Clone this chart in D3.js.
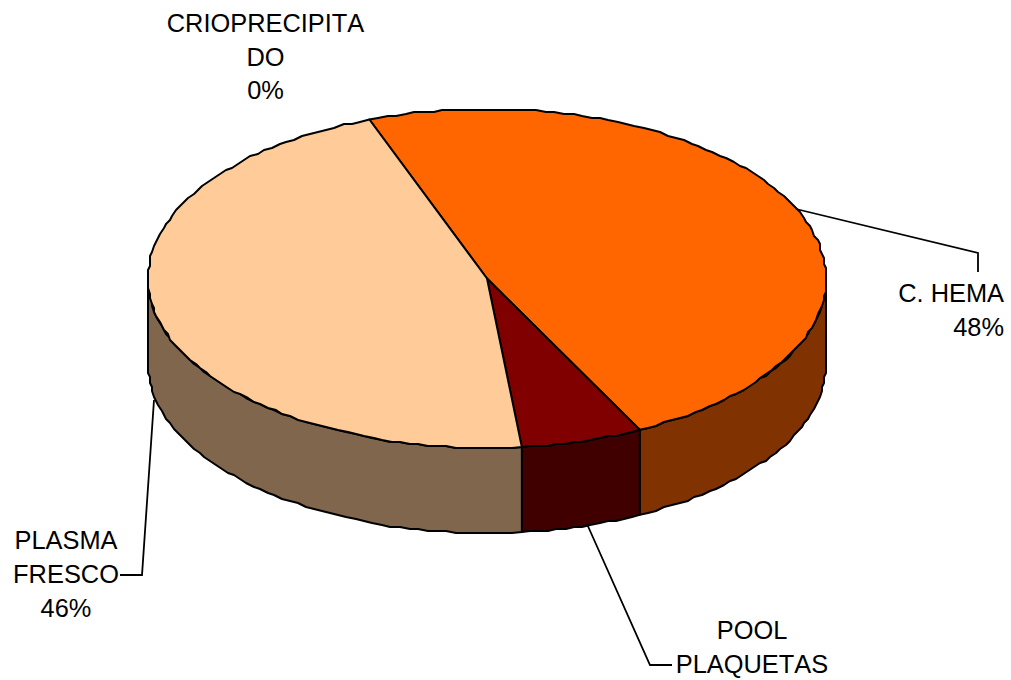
<!DOCTYPE html>
<html><head><meta charset="utf-8">
<script src="https://cdn.jsdelivr.net/npm/d3@7"></script>
<style>html,body{margin:0;padding:0;background:#fff}svg{display:block}
text{font-family:"Liberation Sans",Arial,sans-serif;font-size:25.4px;font-kerning:none;fill:#000}</style>
</head><body><script>
const categories = ["C. HEMA","POOL PLAQUETAS","PLASMA FRESCO","CRIOPRECIPITADO"];
const values = [48.2,5.8,46.0,0];
const topColors = ["#FF6600","#800000","#FFCC99","#FFFFFF"];
const sideColors = ["#803300","#400000","#80664D","#808080"];

const W=1011,H=680;
const svg=d3.select("body").append("svg").attr("width",W).attr("height",H);
const cx=487,cy=278.5,rx=339,ry=169.5,depth=85,GRID=2;
const rad=d=>d*Math.PI/180;
const pie=d3.pie().sort(null).startAngle(rad(-20.3)).endAngle(rad(339.7));
const arcs=pie(values);
const X=d3.scaleLinear().domain([-1,1]).range([cx-rx,cx+rx]);
const Y=d3.scaleLinear().domain([-1,1]).range([cy-ry,cy+ry]);
const snap=v=>Math.round(v/GRID)*GRID;
function rim(a0,a1,dy=0){
  const n=Math.max(1,Math.ceil(Math.abs(a1-a0)/rad(1.6))),pts=[];
  for(let i=0;i<=n;i++){
    const a=a0+(a1-a0)*i/n, edge=(i===0||i===n);
    const x=X(Math.sin(a)), y=Y(-Math.cos(a));
    const p=edge?[x,y+dy]:[snap(x),snap(y)+dy];
    const l=pts[pts.length-1];
    if(!l||l[0]!==p[0]||l[1]!==p[1])pts.push(p);
  }
  return pts;
}
const line=d3.line();
const frontA=rad(90),frontB=rad(270);
const ink={stroke:"#000","stroke-width":2,"stroke-linejoin":"round"};
const style=(s)=>{Object.entries(ink).forEach(([k,v])=>s.attr(k,v));return s;};

// side walls
arcs.forEach((d,i)=>{
  const a=Math.max(d.startAngle,frontA),b=Math.min(d.endAngle,frontB);
  if(b<=a)return;
  const top=rim(a,b,0),bot=rim(b,a,depth);
  style(svg.append("path").attr("d",line(top.concat(bot))+"Z").attr("fill",sideColors[i]));
});
// top faces
arcs.forEach((d,i)=>{
  if(d.endAngle-d.startAngle<1e-6)return;
  const pts=[[cx,cy]].concat(rim(d.startAngle,d.endAngle,0));
  style(svg.append("path").attr("d",line(pts)+"Z").attr("fill",topColors[i]));
});

// leader lines
const leaders=[
  [[796,209],[978,253],[978,272]],
  [[587,524],[650,665],[672,665]],
  [[154,400],[142,575],[120,575]]
];
leaders.forEach(l=>svg.append("path").attr("d",line(l)).attr("fill","none").attr("stroke","#000").attr("stroke-width",1.8));

// labels
const labels=[
  {lines:["CRIOPRECIPITA","DO","0%"],x:265.5,y:[32,66,99],anchor:"middle"},
  {lines:["C. HEMA","48%"],x:1004,y:[302,336],anchor:"end"},
  {lines:["PLASMA","FRESCO","46%"],x:66,y:[549,583,617],anchor:"middle"},
  {lines:["POOL","PLAQUETAS"],x:752,y:[638.5,672.5],anchor:"middle"}
];
labels.forEach(L=>L.lines.forEach((t,i)=>svg.append("text").attr("x",L.x).attr("y",L.y[i]).attr("text-anchor",L.anchor).text(t)));
</script></body></html>
